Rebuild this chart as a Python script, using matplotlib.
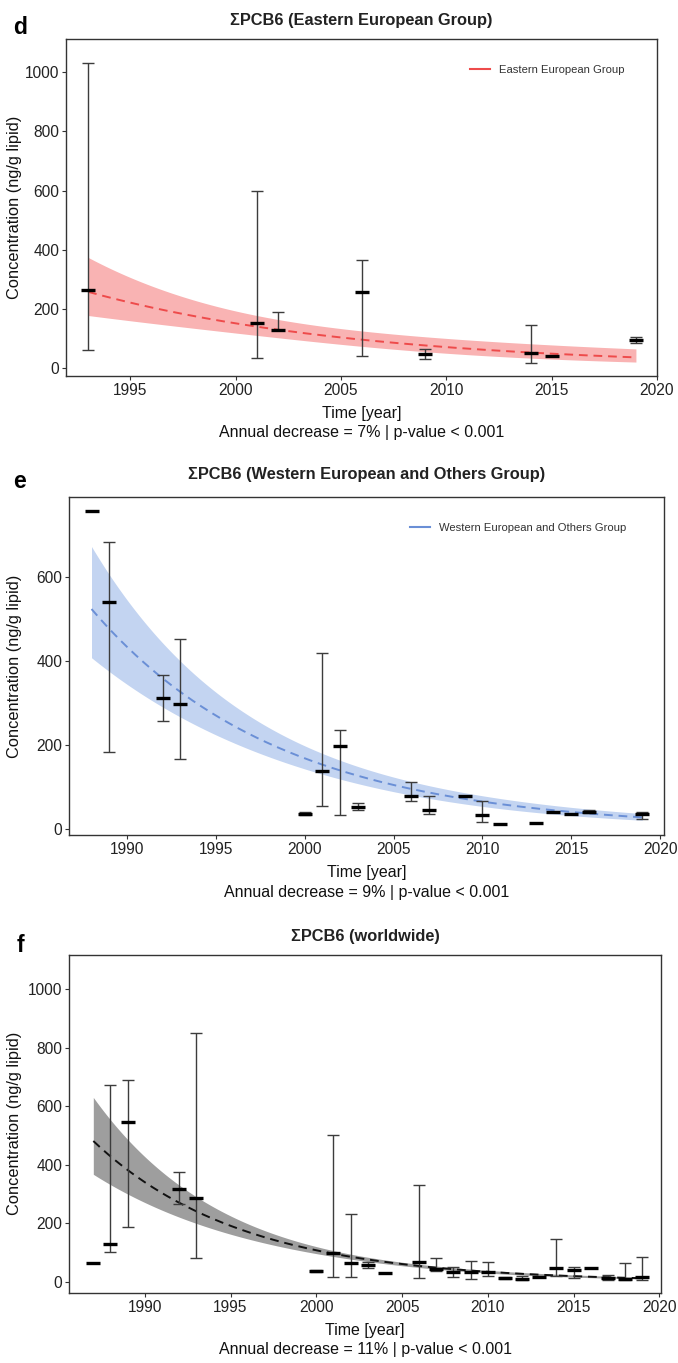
import numpy as np
import matplotlib
matplotlib.use('Agg')
import matplotlib.pyplot as plt

plt.rcParams['font.family'] = ['Liberation Sans', 'DejaVu Sans']

nan = np.nan

# ---- panel d : Eastern European Group
d_years = [1993, 2001, 2002, 2006, 2009, 2014, 2015, 2019]
d_mean = [263, 150, 128, 255, 46, 51, 39, 94]
d_low = [60, 34, 128, 41, 29, 17, nan, 85]
d_high = [1032, 598, 188, 365, 63, 146, nan, 105]
d_fit = [257, 35]            # fitted value at first / last year
d_ci_years = [1993, 2002, 2019]
d_ci_width = [0.374, 0.238, 0.60]   # half width of band (log scale)

# ---- panel e : Western European and Others Group
e_years = [1988, 1989, 1992, 1993, 2000, 2001, 2002, 2003, 2006, 2007,
           2009, 2010, 2011, 2013, 2014, 2015, 2016, 2019]
e_mean = [758, 540, 313, 299, 36, 138, 198, 53, 80, 45, 79, 33, 13, 14, 40, 37, 41, 37]
e_low = [nan, 184, 257, 167, 33, 54, 33, 45, 67, 35, nan, 17, nan, nan, nan, nan, 38, 23]
e_high = [nan, 684, 367, 452, 40, 420, 236, 61, 112, 79, nan, 67, nan, nan, nan, nan, 45, 40]
e_fit = [524, 28]
e_ci_years = [1988, 2003, 2019]
e_ci_width = [0.25, 0.16, 0.28]

# ---- panel f : worldwide
f_years = [1987, 1988, 1989, 1992, 1993, 2000, 2001, 2002, 2003, 2004, 2006, 2007,
           2008, 2009, 2010, 2011, 2012, 2013, 2014, 2015, 2016, 2017, 2018, 2019]
f_mean = [63, 128, 545, 317, 285, 37, 97, 63, 57, 31, 68, 43, 32, 32, 34, 12, 10, 17,
          48, 40, 46, 12, 8, 17]
f_low = [nan, 100, 188, 265, 80, 34, 17, 17, 48, nan, 12, 38, 17, 8, 21, 8, 5, nan,
         21, 14, nan, 5, 5, 5]
f_high = [nan, 673, 690, 376, 850, 40, 502, 232, 68, nan, 331, 82, 51, 71, 68, 17, 21, nan,
          146, 51, nan, 23, 65, 83]
f_fit = [481, 12]
f_ci_years = [1987, 2002, 2019]
f_ci_width = [0.27, 0.10, 0.25]

W, H = 678, 1363
fig = plt.figure(figsize=(W / 100, H / 100), dpi=100)

panels = [
    dict(letter='d', title='ΣPCB6 (Eastern European Group)',
         years=d_years, mean=d_mean, low=d_low, high=d_high, fit=d_fit,
         ci_years=d_ci_years, ci_width=d_ci_width,
         box=(66, 39.3, 657, 375.7), xlim=(1991.95, 2020), ylim=(-27, 1112),
         yticks=[0, 200, 400, 600, 800, 1000], xticks=[1995, 2000, 2005, 2010, 2015, 2020],
         line='#EE4B4B', fill='#F9B3B3', legend='Eastern European Group', leg_at=(470, 70),
         letter_y=27, title_y=20.5, sub='Annual decrease = 7% | p-value < 0.001'),
    dict(letter='e', title='ΣPCB6 (Western European and Others Group)',
         years=e_years, mean=e_mean, low=e_low, high=e_high, fit=e_fit,
         ci_years=e_ci_years, ci_width=e_ci_width,
         box=(69.3, 497.3, 663.6, 835), xlim=(1986.75, 2020.2), ylim=(-14, 790),
         yticks=[0, 200, 400, 600], xticks=[1990, 1995, 2000, 2005, 2010, 2015, 2020],
         line='#6A8FD6', fill='#C3D4F1', legend='Western European and Others Group',
         leg_at=(410, 528.3),
         letter_y=482, title_y=474, sub='Annual decrease = 9% | p-value < 0.001'),
    dict(letter='f', title='ΣPCB6 (worldwide)',
         years=f_years, mean=f_mean, low=f_low, high=f_high, fit=f_fit,
         ci_years=f_ci_years, ci_width=f_ci_width,
         box=(69.3, 955, 661, 1292.7), xlim=(1985.6, 2020.1), ylim=(-37.6, 1117),
         yticks=[0, 200, 400, 600, 800, 1000], xticks=[1990, 1995, 2000, 2005, 2010, 2015, 2020],
         line='#111111', fill='#9E9E9E', legend=None, leg_at=None,
         letter_y=946, title_y=936.7, sub='Annual decrease = 11% | p-value < 0.001'),
]

for p in panels:
    x0, y0, x1, y1 = p['box']
    ax = fig.add_axes([x0 / W, 1 - y1 / H, (x1 - x0) / W, (y1 - y0) / H])

    years = np.array(p['years'], dtype=float)
    mean = np.array(p['mean'], dtype=float)
    low = np.array(p['low'], dtype=float)
    high = np.array(p['high'], dtype=float)

    # exponential fit between first and last year, with confidence band
    t = np.linspace(years.min(), years.max(), 300)
    a, b = p['fit']
    fit = a * (b / a) ** ((t - t[0]) / (t[-1] - t[0]))
    coef = np.polyfit(p['ci_years'], np.square(p['ci_width']), 2)
    w = np.sqrt(np.clip(np.polyval(coef, t), 1e-4, None))
    ax.fill_between(t, fit * np.exp(-w), fit * np.exp(w), color=p['fill'], lw=0, zorder=1)
    ax.plot(t, fit, ls=(0, (4.5, 3)), lw=1.4, color=p['line'], zorder=2, label=p['legend'])

    has = ~np.isnan(low)
    ax.errorbar(years[has], mean[has],
                yerr=[mean[has] - low[has], high[has] - mean[has]],
                fmt='none', ecolor='#3c3c3c', elinewidth=1.0, capsize=4.5, capthick=1.0,
                zorder=3)
    ax.plot(years, mean, ls='none', marker='_', ms=9.5, mew=2.4, color='black', zorder=4)

    ax.set_xlim(p['xlim'])
    ax.set_ylim(p['ylim'])
    ax.set_xticks(p['xticks'])
    ax.set_yticks(p['yticks'])
    ax.tick_params(axis='both', labelsize=11.2, length=3, width=0.8,
                   color='#333333', labelcolor='#222222', pad=2)
    for s in ax.spines.values():
        s.set_color('#333333')
        s.set_linewidth(1.0)

    if p['legend']:
        lx, ly = p['leg_at']
        ax.legend(loc='center left', bbox_to_anchor=((lx - x0) / (x1 - x0), 1 - (ly - y0) / (y1 - y0)),
                  frameon=False, fontsize=8.1, handlelength=1.8, handletextpad=0.8,
                  borderpad=0, borderaxespad=0)
        leg = ax.get_legend()
        for h in leg.get_lines():
            h.set_linestyle('-')
            h.set_linewidth(1.5)
        for txt in leg.get_texts():
            txt.set_color('#333333')

    xc = (x0 + x1) / 2 / W
    fig.text(20 / W, 1 - p['letter_y'] / H, p['letter'], fontsize=16.5, fontweight='bold',
             ha='center', va='center')
    fig.text(xc, 1 - p['title_y'] / H, p['title'], fontsize=11.8, fontweight='bold',
             ha='center', va='center', color='#222222')
    fig.text(15 / W, 1 - (y0 + y1) / 2 / H, 'Concentration (ng/g lipid)', rotation=90,
             fontsize=11.8, ha='center', va='center', color='#111111')
    fig.text(xc, 1 - (y1 + 38) / H, 'Time [year]', fontsize=11.5, ha='center', va='center',
             color='#111111')
    fig.text(xc, 1 - (y1 + 57) / H, p['sub'], fontsize=11.5, ha='center', va='center',
             color='#111111')

fig.savefig('out.png', dpi=100)
